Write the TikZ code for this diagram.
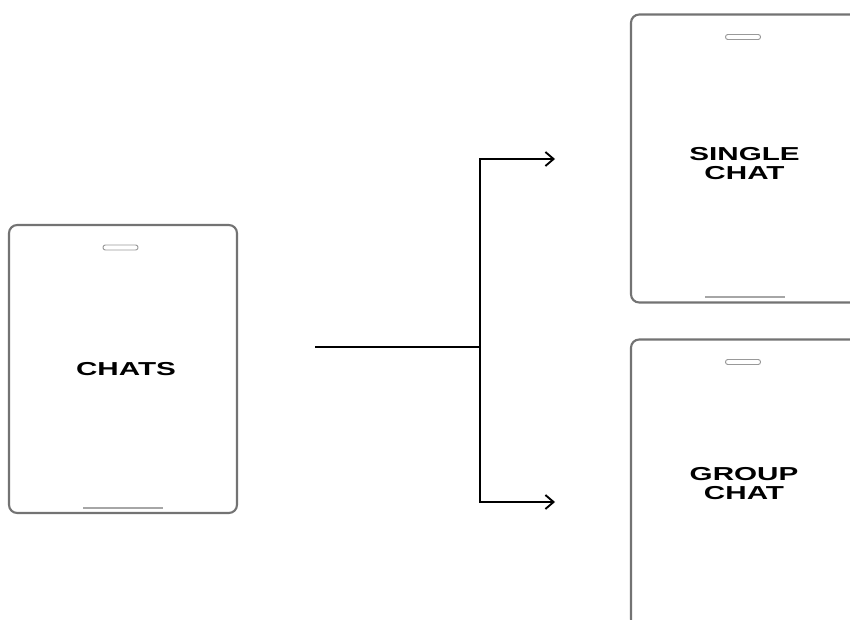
\documentclass[tikz,border=0pt]{standalone}
\usepackage{fontspec}
\setmainfont{Liberation Sans}
\usetikzlibrary{arrows.meta}
\tikzset{
  body/.style={draw=black!55,line width=1.8pt,rounded corners=7pt,fill=white,
    minimum width=6.84cm,minimum height=8.64cm,inner sep=0pt},
  ear/.style={draw=black!40,line width=0.8pt,rounded corners=2pt,
    minimum width=1.05cm,minimum height=0.15cm,inner sep=0pt},
  bar/.style={draw=black!35,line width=1pt},
  lbl/.style={font=\bfseries\fontsize{16}{16.6}\selectfont,align=center,xscale=1.58},
  trunk/.style={line width=1.3pt},
  link/.style={line width=1.6pt,-{Straight Barb[length=7pt,width=12pt,line width=1.6pt]}}
}
\begin{document}
\begin{tikzpicture}[x=0.03cm,y=-0.03cm]
\useasboundingbox (0,0) rectangle (850,619);
\clip (0,0) rectangle (850,619);
% chat list screen
\node[body] (chats) at (123,369) {};
\node[ear] (chatsear) at (120.5,247.5) {};
\draw[bar] (83,508) -- (163,508);
\node[lbl] (chatslbl) at (126,369.5) {CHATS};
% single chat screen
\node[body] (single) at (745,158.5) {};
\node[ear] (singleear) at (743,37) {};
\draw[bar] (705,297) -- (785,297);
\node[lbl] (singlelbl) at (744.5,163.5) {SINGLE\\CHAT};
% group chat screen
\node[body] (group) at (745,483.5) {};
\node[ear] (groupear) at (743,362) {};
\node[lbl] (grouplbl) at (744,483.5) {GROUP\\CHAT};
% branching arrows
\coordinate (tail) at (315,347);
\coordinate (fork) at (480,347);
\coordinate (tosingle) at (555,159);
\coordinate (togroup) at (555,502);
\draw[trunk] (tail) -- (fork);
\draw[link] (fork) |- (tosingle);
\draw[link] (fork) |- (togroup);
\end{tikzpicture}
\end{document}
